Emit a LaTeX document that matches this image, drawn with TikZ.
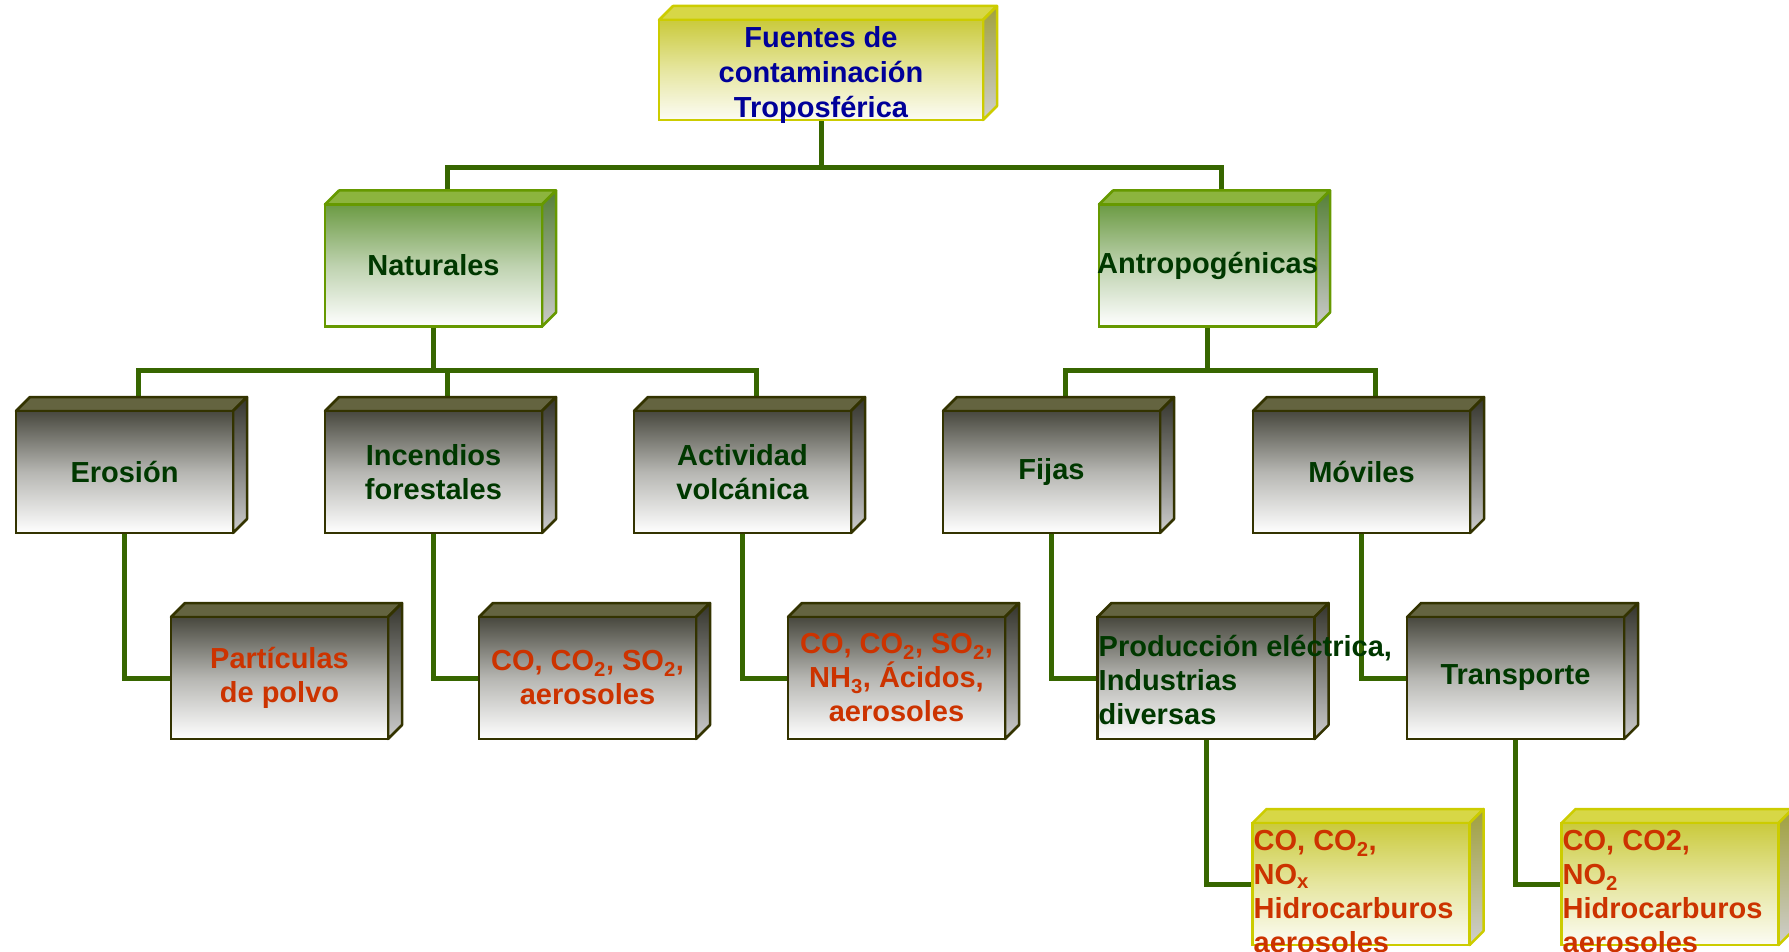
\documentclass[tikz,border=0pt]{standalone}
\usepackage{fontspec}
\setmainfont{Liberation Sans}
\usetikzlibrary{backgrounds}
\definecolor{ttl}{RGB}{0,0,153}
\definecolor{dgreen}{RGB}{0,56,0}
\definecolor{ored}{RGB}{204,51,0}
\definecolor{connc}{RGB}{55,102,0}
\definecolor{greyedge}{RGB}{51,51,0}
\definecolor{grnedge}{RGB}{102,153,0}
\definecolor{yeledge}{RGB}{204,204,0}
\newcommand\drawfaces[2]{%
  \draw[#2top] (#1.north west) -- (#1.north east) -- ([shift={(14,-14)}]#1.north east) -- ([shift={(14,-14)}]#1.north west) -- cycle;
  \draw[#2side] (#1.north east) -- ([shift={(14,-14)}]#1.north east) -- ([shift={(14,-14)}]#1.south east) -- (#1.south east) -- cycle;}
\begin{document}
\begin{tikzpicture}[x=1pt,y=-1pt,
  box/.style={line width=2.5pt, minimum width=217pt, minimum height=122pt, inner sep=0pt, outer sep=0pt, align=center, font=\bfseries\fontsize{29}{34}\selectfont},
  greybox/.style={box, draw=greyedge, top color={rgb,255:red,72;green,72;blue,62}, bottom color=white, middle color={rgb,255:red,182;green,182;blue,178}},
  grnbox/.style={box, draw=grnedge, top color={rgb,255:red,108;green,155;blue,68}, bottom color=white, middle color={rgb,255:red,190;green,210;blue,175}},
  yelbox/.style={box, draw=yeledge, top color={rgb,255:red,202;green,202;blue,60}, bottom color={rgb,255:red,252;green,252;blue,245}, middle color={rgb,255:red,230;green,230;blue,160}},
  greytop/.style={draw=greyedge, line width=2.5pt, line join=round, fill={rgb,255:red,100;green,100;blue,64}},
  greyside/.style={draw=greyedge, line width=2.5pt, line join=round, top color={rgb,255:red,52;green,52;blue,44}, bottom color={rgb,255:red,205;green,205;blue,205}},
  grntop/.style={draw=grnedge, line width=2.5pt, line join=round, fill={rgb,255:red,140;green,180;blue,62}},
  grnside/.style={draw=grnedge, line width=2.5pt, line join=round, top color={rgb,255:red,85;green,128;blue,55}, bottom color={rgb,255:red,202;green,202;blue,202}},
  yeltop/.style={draw=yeledge, line width=2.5pt, line join=round, fill={rgb,255:red,215;green,215;blue,70}},
  yelside/.style={draw=yeledge, line width=2.5pt, line join=round, top color={rgb,255:red,160;green,160;blue,60}, bottom color={rgb,255:red,206;green,206;blue,206}},
  conn/.style={draw=connc, line width=5pt},
  freetext/.style={anchor=west, align=left, inner sep=0pt, font=\bfseries\fontsize{29}{34}\selectfont}]
\useasboundingbox (0,0) rectangle (1789,952);
% level 1
\node[yelbox, minimum width=324pt, minimum height=100pt, text=ttl, font=\bfseries\fontsize{29}{35}\selectfont] (top) at (821,70) {\rule{0pt}{25pt}Fuentes de\\contaminación\\\smash{Troposférica}};
% level 2
\node[grnbox, text=dgreen] (nat) at (433.5,265.5) {Naturales};
\node[grnbox, text=dgreen] (ant) at (1207.5,265.5) {\makebox[200pt]{Antropogénicas}};
% level 3
\node[greybox, text=dgreen] (ero) at (124.5,472) {Erosión};
\node[greybox, text=dgreen] (inc) at (433.5,472) {Incendios\\forestales};
\node[greybox, text=dgreen] (act) at (742.5,472) {Actividad\\volcánica};
\node[greybox, text=dgreen] (fij) at (1051.5,472) {Fijas};
\node[greybox, text=dgreen] (mov) at (1361.5,472) {Móviles};
% level 4
\node[greybox, text=ored] (part) at (279.5,678) {Partículas\\de polvo};
\node[greybox, text=ored] (res1) at (587.5,678) {CO, CO\textsubscript{2}, SO\textsubscript{2},\\aerosoles};
\node[greybox, text=ored] (res2) at (896.5,678) {CO, CO\textsubscript{2}, SO\textsubscript{2},\\NH\textsubscript{3}, Ácidos,\\aerosoles};
\node[greybox] (prod) at (1206,678) {};
\node[greybox, text=dgreen] (trans) at (1515.5,678) {Transporte};
% level 5
\node[yelbox] (fa) at (1361,884) {};
\node[yelbox] (fb) at (1670,884) {};
% free texts
\node[freetext, text=dgreen] (prodtxt) at ([shift={(1,2)}]prod.west) {Producción eléctrica,\\Industrias\\diversas};
\node[freetext, text=ored] (fatxt) at ([shift={(1,8)}]fa.west) {CO, CO\textsubscript{2},\\NO\textsubscript{x}\\Hidrocarburos\\aerosoles};
\node[freetext, text=ored] (fbtxt) at ([shift={(1,8)}]fb.west) {CO, CO2,\\NO\textsubscript{2}\\Hidrocarburos\\aerosoles};
\begin{pgfonlayer}{background}
% connectors
\draw[conn] (top.south) -- ++(0,48) -| ([shift={(14,-14)}]nat.north);
\draw[conn] (top.south) -- ++(0,48) -| ([shift={(14,-14)}]ant.north);
\foreach \n in {ero,inc,act} {\draw[conn] (nat.south) -- ++(0,44) -| ([shift={(14,-14)}]\n.north);}
\foreach \n in {fij,mov} {\draw[conn] (ant.south) -- ++(0,44) -| ([shift={(14,-14)}]\n.north);}
\draw[conn] (ero.south) |- (part.west);
\draw[conn] (inc.south) |- (res1.west);
\draw[conn] (act.south) |- (res2.west);
\draw[conn] (fij.south) |- (prod.west);
\draw[conn] (mov.south) |- (trans.west);
\draw[conn] (prod.south) |- (fa.west);
\draw[conn] (trans.south) |- (fb.west);
% faces
\drawfaces{top}{yel}
\drawfaces{nat}{grn}
\drawfaces{ant}{grn}
\foreach \n in {ero,inc,act,fij,mov,part,res1,res2,prod,trans} {\drawfaces{\n}{grey}}
\drawfaces{fa}{yel}
\drawfaces{fb}{yel}
\end{pgfonlayer}
\end{tikzpicture}
\end{document}
